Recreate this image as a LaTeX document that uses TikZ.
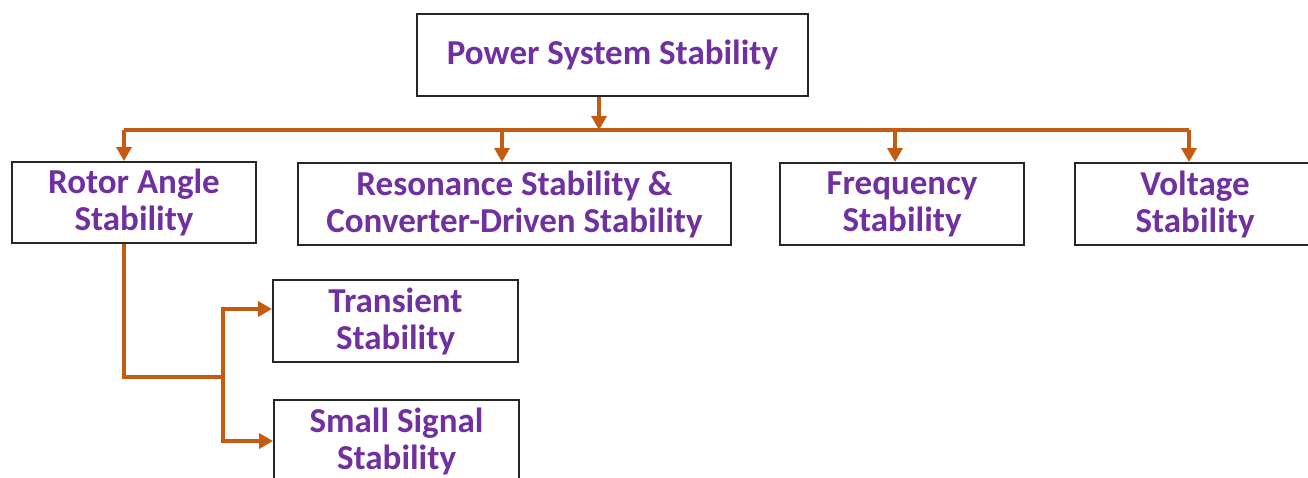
\documentclass[tikz,border=0pt]{standalone}
\usepackage{fontspec}
\setmainfont{Carlito}
\usetikzlibrary{arrows.meta}
\definecolor{pssorange}{RGB}{197,90,17}
\definecolor{psspurple}{RGB}{112,48,160}
\tikzset{
  stabbox/.style={draw=black!85, line width=2pt, align=center, text=psspurple,
    font=\bfseries\fontsize{35}{37}\selectfont, inner sep=0pt},
  wire/.style={draw=pssorange, line width=3.6pt},
  link/.style={wire, -{Triangle[length=14pt,width=15pt]}},
}
\begin{document}
\begin{tikzpicture}[x=1pt,y=-1pt]
\useasboundingbox (0,0) rectangle (1308,477);
% boxes
\node[stabbox, minimum width=391, minimum height=82] (pss) at (612.5,55) {Power System Stability};
\node[stabbox, minimum width=244, minimum height=81] (rotor) at (134,202.5) {Rotor Angle\\Stability};
\node[stabbox, minimum width=433, minimum height=82] (reson) at (514.5,204) {Resonance Stability \&\\Converter-Driven Stability};
\node[stabbox, minimum width=244, minimum height=82] (freq) at (902,204) {Frequency\\Stability};
\node[stabbox, minimum width=240, minimum height=82] (volt) at (1195,204) {Voltage\\Stability};
\node[stabbox, minimum width=245, minimum height=82] (trans) at (395.5,321) {Transient\\Stability};
\node[stabbox, minimum width=245, minimum height=82] (small) at (396.5,441) {Small Signal\\Stability};

%------------------------------------------------
\coordinate (bus) at (599,130);
\coordinate (split) at (223,377);
\draw[link] (pss.south -| bus) -- (bus);
\draw[wire] ([xshift=-10]rotor.north |- bus) -- ([xshift=-6]volt.north |- bus);
\foreach \n/\s in {rotor/-10, reson/-12.5, freq/-7, volt/-6}
  \draw[link] ([xshift=\s]\n.north |- bus) -- ([xshift=\s]\n.north);
\draw[wire] ([xshift=-10]rotor.south) |- (split);
\draw[link] (split) |- ([yshift=12]trans.west);
\draw[link] (split) |- (small.west);
\end{tikzpicture}
\end{document}
